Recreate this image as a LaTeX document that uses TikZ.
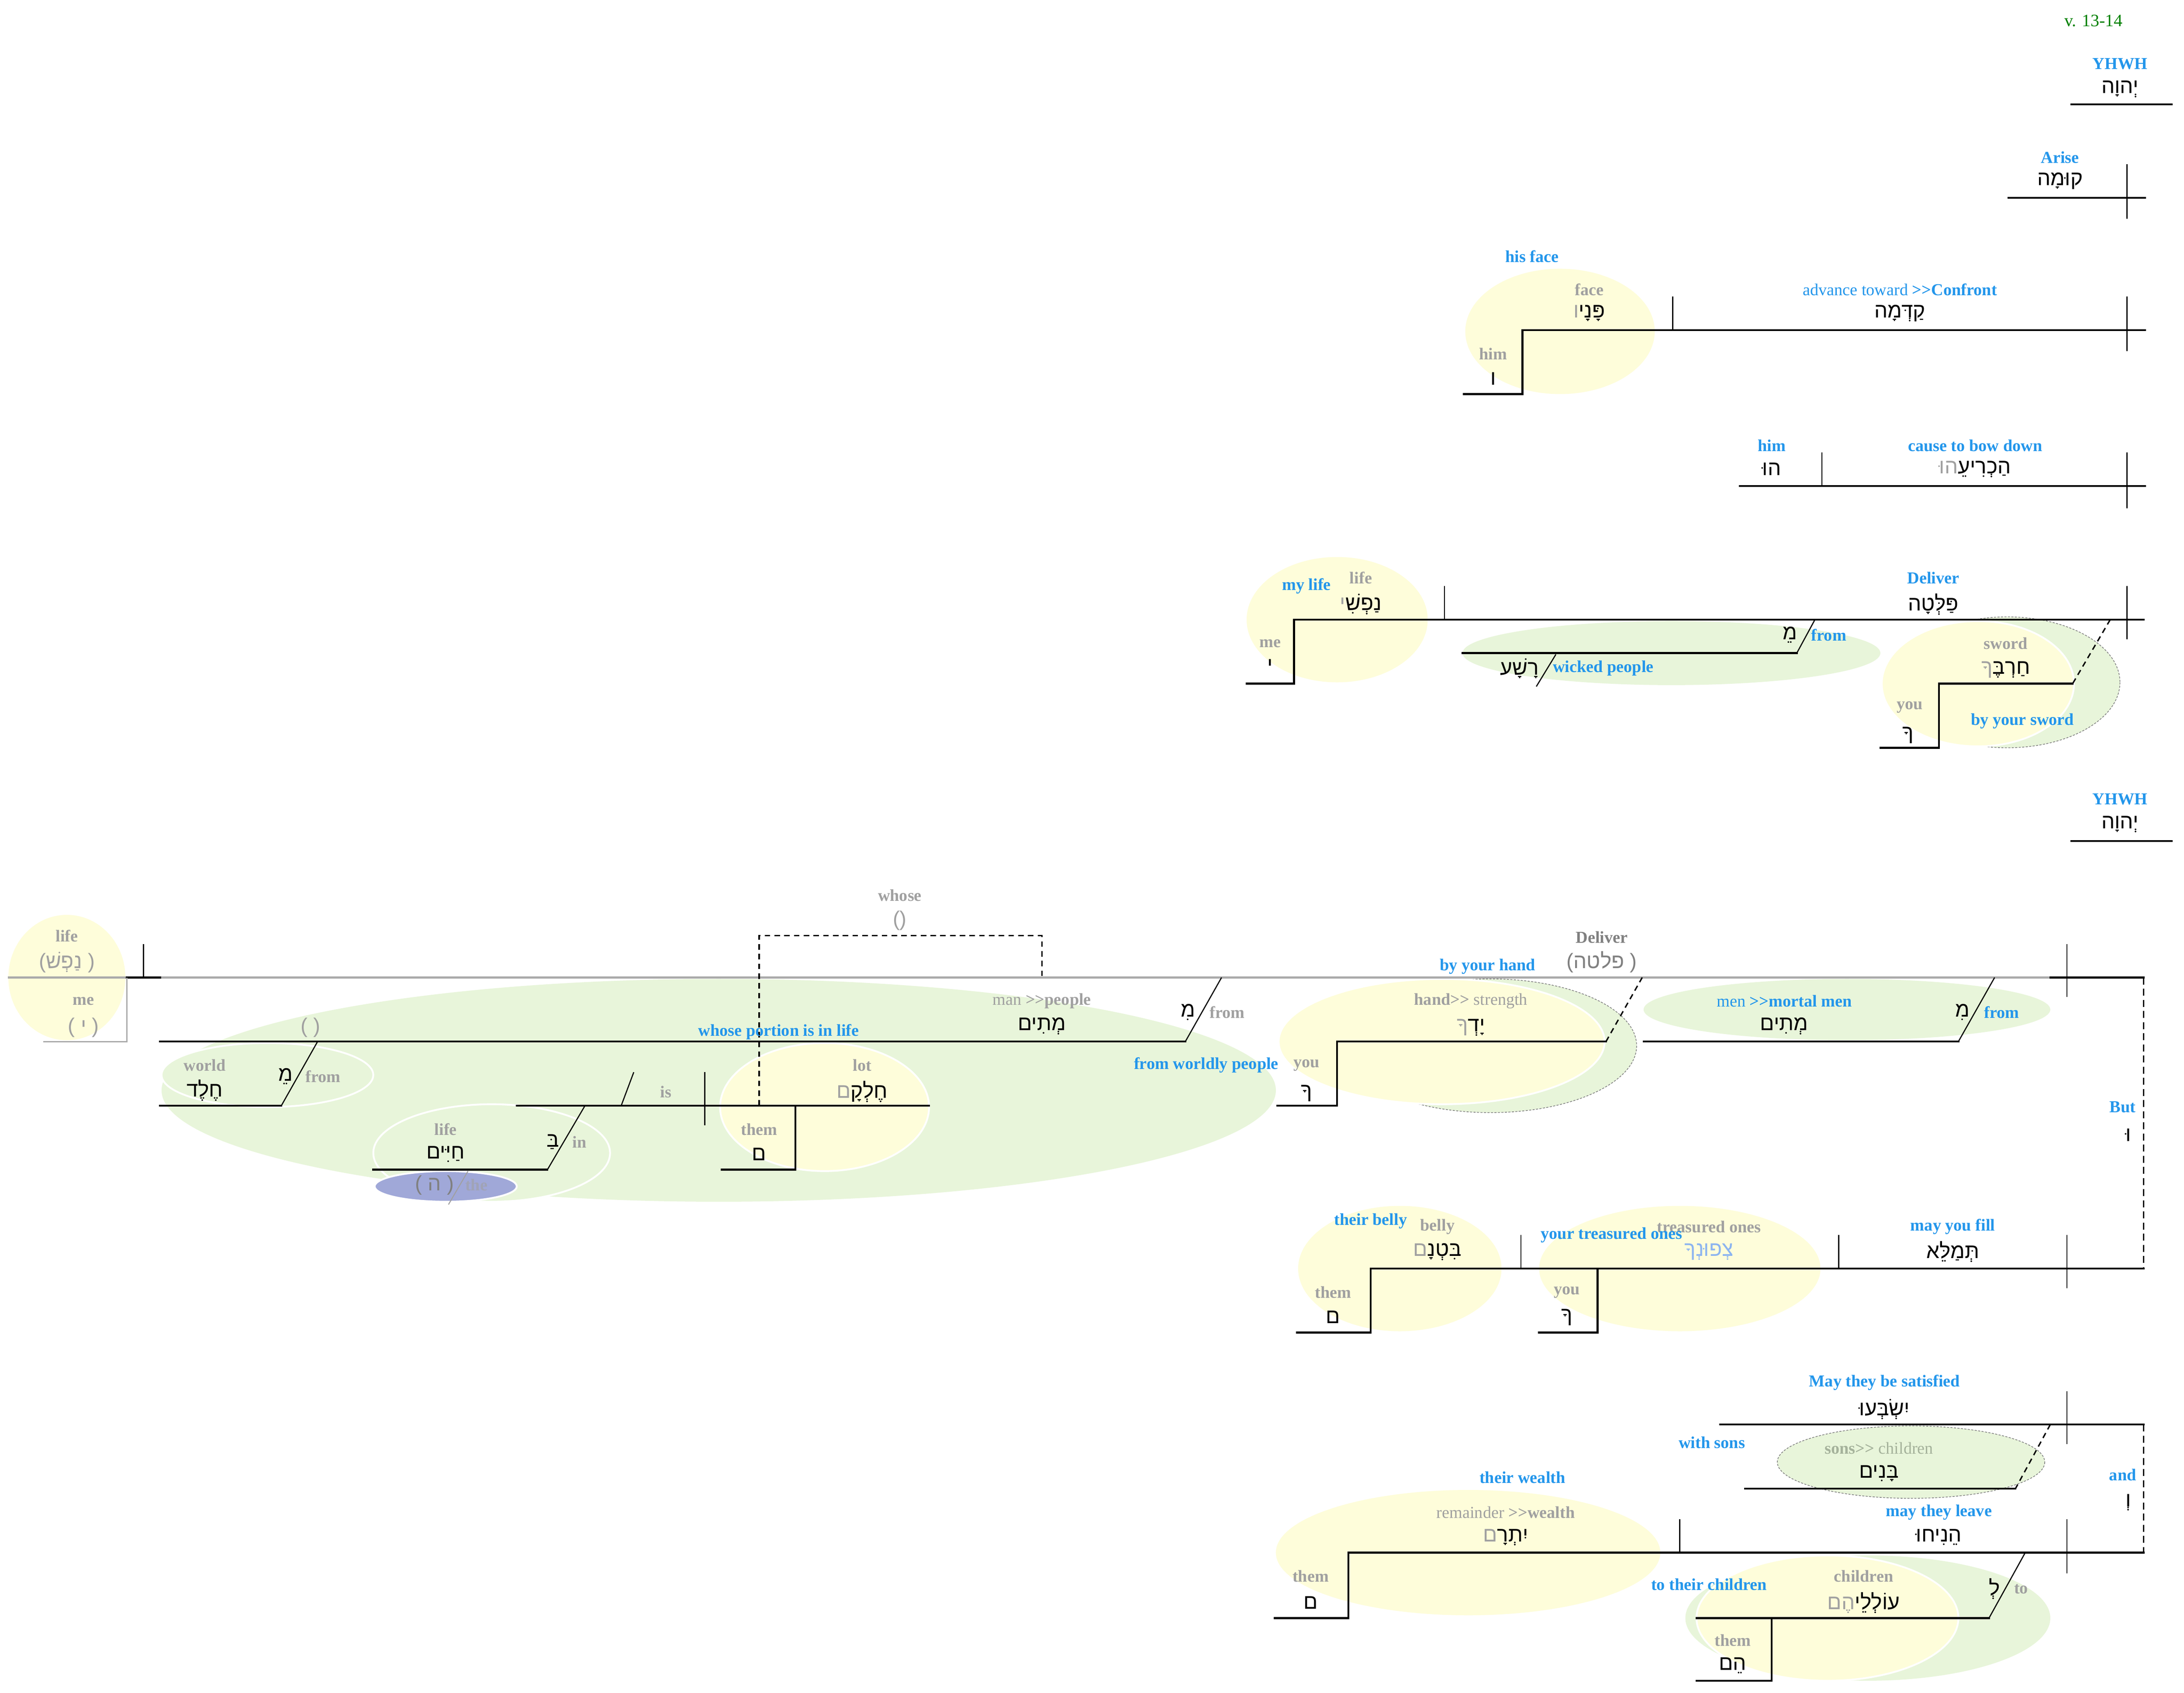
\documentclass[tikz,border=0pt]{standalone}
\usepackage{fontspec}
\setmainfont{Liberation Serif}
\newfontfamily\heb[Script=Hebrew]{Liberation Sans}
\newfontfamily\lsans{Liberation Sans}
\TeXXeTstate=1
\newcommand\gtgt{>\kern0pt>}
\definecolor{lb}{RGB}{35,150,235}
\definecolor{lg}{RGB}{160,160,160}
\definecolor{dg}{RGB}{128,128,128}
\definecolor{yel}{RGB}{254,253,218}
\definecolor{grn}{RGB}{232,245,218}
\definecolor{pur}{RGB}{160,168,216}
\definecolor{vgreen}{RGB}{0,128,0}
\definecolor{hbl}{RGB}{140,180,240}
\definecolor{sg}{RGB}{165,178,155}
\definecolor{mainline}{RGB}{170,170,170}
\tikzset{
  lbl/.style={inner sep=0pt, font=\fontsize{12}{12}\selectfont\bfseries, text=lb},
  glbl/.style={lbl, text=lg},
  hb/.style={inner sep=0pt, font=\heb\fontsize{15}{15}\selectfont},
  ghb/.style={hb, text=lg},
  ln/.style={line width=1.4pt, line cap=rect},
  tn/.style={line width=0.8pt},
  dsh/.style={line width=1pt, dash pattern=on 4pt off 3pt},
  vdsh/.style={line width=0.8pt, dash pattern=on 5pt off 3pt},
  yel/.style={fill=yel},
  gr/.style={fill=grn},
  wb/.style={draw=white, line width=1.3pt},
  dotb/.style={draw=dg, line width=0.5pt, dash pattern=on 1.5pt off 1pt},
}
% Hebrew word: #1 = main part (black), #2 = suffix (gray), laid out right to left
\newcommand\hw[2]{{\color{lg}\beginR #2\endR}\beginR #1\endR}
\newcommand\hr[1]{\beginR #1\endR}
\newcommand\lp{{\lsans(}}
\newcommand\rp{{\lsans)}}
\begin{document}
\begin{tikzpicture}[x=1pt,y=-1pt]
\fill[white] (0,0) rectangle (1568,1215.7);
\useasboundingbox (0,0) rectangle (1568,1215.7);

% ---------- ellipses ----------
\fill[yel] (1120,238) ellipse [x radius=68, y radius=45];
\fill[yel] (960,445) ellipse [x radius=65, y radius=45];
\fill[gr] (1200,469) ellipse [x radius=150, y radius=23];
\filldraw[gr,dotb] (1441,490) ellipse [x radius=81, y radius=47];
\filldraw[yel,wb] (1420,491) ellipse [x radius=69, y radius=45];

\fill[yel] (48,702) ellipse [x radius=42, y radius=45];
\fill[gr] (516,783) ellipse [x radius=400, y radius=80];
\filldraw[gr,wb] (192,772) ellipse [x radius=76, y radius=23];
\filldraw[gr,wb] (353,828) ellipse [x radius=85, y radius=35];
\filldraw[fill=pur,wb] (320,852) ellipse [x radius=51, y radius=11];
\filldraw[yel,wb] (592,795) ellipse [x radius=75, y radius=46];
\filldraw[gr,dotb] (1070,751) ellipse [x radius=105, y radius=48];
\filldraw[yel,wb] (1035,748) ellipse [x radius=117, y radius=45];
\fill[gr] (1326,725) ellipse [x radius=146, y radius=22];

\fill[yel] (1005,911) ellipse [x radius=73, y radius=45];
\fill[yel] (1206,911) ellipse [x radius=101, y radius=45];
\filldraw[gr,dotb] (1372,1050) ellipse [x radius=96, y radius=26];
\fill[yel] (1054,1115) ellipse [x radius=138, y radius=45];
\fill[gr] (1341,1162) ellipse [x radius=131, y radius=45];
\filldraw[yel,wb] (1312,1162) ellipse [x radius=94, y radius=45];

% ---------- lines: upper part ----------
\draw[ln] (1487,75) -- (1559,75);
\draw[ln] (1442,142) -- (1540,142);
\draw[tn] (1527,118) -- (1527,157);

\draw[ln] (1051,283) -- (1093,283) -- (1093,237) -- (1540,237);
\draw[tn] (1201,213) -- (1201,237);
\draw[tn] (1527,213) -- (1527,252);

\draw[ln] (1249,349) -- (1540,349);
\draw[tn] (1308,325) -- (1308,349);
\draw[tn] (1527,325) -- (1527,365);

\draw[ln] (895,491) -- (929,491) -- (929,445) -- (1539,445);
\draw[tn] (1037,421) -- (1037,445);
\draw[tn] (1527,421) -- (1527,459);
\draw[ln] (1050,469) -- (1290,469);
\draw[tn] (1290,469) -- (1303,445);
\draw[tn] (1117,470) -- (1103,493);
\draw[dsh] (1515,445) -- (1488,491);
\draw[ln] (1350,537) -- (1392,537) -- (1392,491) -- (1488,491);

\draw[ln] (1487,604) -- (1559,604);

% ---------- lines: lower main clause ----------
\draw[line width=1.4pt, mainline] (5.5,702) -- (1472,702);
\draw[ln] (91,702) -- (115,702);
\draw[tn] (103,678) -- (103,702);
\draw[line width=1pt, mainline] (91,702) -- (91,748) -- (31,748);
\draw[ln] (1472,702) -- (1539,702);
\draw[tn] (1484,678) -- (1484,716);
\draw[vdsh] (1539,702) -- (1539,911);

\draw[ln] (115,748) -- (851,748);
\draw[tn] (851,748) -- (877,702);
\draw[dsh] (545,794) -- (545,672) -- (748,672) -- (748,702);
\draw[ln] (115,794) -- (202,794);
\draw[tn] (202,794) -- (228,748);
\draw[ln] (268,840) -- (393,840);
\draw[tn] (393,840) -- (420,794);
\draw[line width=0.7pt, lg] (336,841) -- (322,865);
\draw[ln] (371,794) -- (667,794);
\draw[tn] (455,770) -- (446,794);
\draw[tn] (506,770) -- (506,808);
\draw[ln] (518,840) -- (571,840) -- (571,794);

\draw[ln] (917,794) -- (960,794) -- (960,748) -- (1153,748);
\draw[dsh] (1153,748) -- (1179,702);
\draw[ln] (1180,748) -- (1406,748);
\draw[tn] (1406,748) -- (1432,702);

% ---------- lines: fill clause ----------
\draw[ln] (931,957) -- (984,957) -- (984,911) -- (1539,911);
\draw[tn] (1484,887) -- (1484,925);
\draw[tn] (1320,887) -- (1320,911);
\draw[tn] (1092,887) -- (1092,911);
\draw[ln] (1105,957) -- (1147,957) -- (1147,911);

% ---------- lines: satisfied / leave ----------
\draw[ln] (1235,1023) -- (1539,1023);
\draw[tn] (1484,999) -- (1484,1037);
\draw[dsh] (1472,1023) -- (1447,1069);
\draw[ln] (1253,1069) -- (1447,1069);
\draw[vdsh] (1539,1023) -- (1539,1115);

\draw[ln] (915,1162) -- (968,1162) -- (968,1115) -- (1539,1115);
\draw[tn] (1484,1091) -- (1484,1130);
\draw[tn] (1206,1091) -- (1206,1115);
\draw[tn] (1454,1115) -- (1428,1162);
\draw[ln] (1218,1162) -- (1428,1162);
\draw[ln] (1218,1207) -- (1272,1207) -- (1272,1162);

% ---------- text: upper ----------
\node[lbl, text=vgreen, font=\fontsize{12.5}{12.5}\selectfont] (vv) at (1503,15) {v. 13-14};
\node[lbl] (yh1) at (1522,46) {YHWH};
\node[hb] (yh1h) at (1522,64) {\hr{יְהוָה}};
\node[lbl] (ar) at (1479,113) {Arise};
\node[hb] (arh) at (1479,130) {\hr{קוּמָה}};
\node[lbl] (hf) at (1100,184) {his face};
\node[glbl] (fc) at (1141,208) {face};
\node[hb] (fch) at (1141,225) {\hw{פָּנָי}{ו}};
\node[lbl] (adv) at (1364,208) {\mdseries advance toward \bfseries\gtgt Confront};
\node[hb] (advh) at (1364,225) {\hr{קַדְּמָה}};
\node[glbl] (hm1) at (1072,254) {him};
\node[hb] (hm1h) at (1072,272) {\hr{ו}};
\node[lbl] (hm2) at (1272,320) {him};
\node[hb] (hm2h) at (1272,337) {\hr{הוּ}};
\node[lbl] (cb) at (1418,320) {cause to bow down};
\node[hb] (cbh) at (1418,337) {\hw{הַכְרִיעֵ}{הוּ}};
\node[lbl] (ml) at (938,421) {my life};
\node[glbl] (lf1) at (977,415) {life};
\node[hb] (lf1h) at (977,434) {\hw{נַפְשִׁ}{י}};
\node[lbl] (dl1) at (1388,415) {Deliver};
\node[hb] (dl1h) at (1388,434) {\hr{פַּלְּטָה}};
\node[glbl] (me1) at (912,462) {me};
\node[hb] (me1h) at (912,478) {\hr{י}};
\node[hb] (fr1h) at (1285,456) {\hr{מֵ}};
\node[lbl] (fr1) at (1313,456) {from};
\node[hb] (wkh) at (1091,480) {\hr{רָשָׁע}};
\node[lbl] (wk) at (1151,480) {wicked people};
\node[glbl] (sw) at (1440,462) {sword};
\node[hb] (swh) at (1440,481) {\hw{חַרְבֶּ}{ךָ}};
\node[glbl] (yu1) at (1371,508) {you};
\node[hb] (yu1h) at (1370,528) {\hr{ךָ}};
\node[lbl] (bys) at (1452,518) {by your sword};
\node[lbl] (yh2) at (1522,574) {YHWH};
\node[hb] (yh2h) at (1522,592) {\hr{יְהוָה}};

% ---------- text: lower main clause ----------
\node[glbl] (lf2) at (48,672) {life};
\node[ghb] (lf2h) at (48,691) {\lp\hr{נַפְשׁ}\ \rp};
\node[glbl] (me2) at (60,719) {me};
\node[ghb] (me2h) at (60,738) {\lp\ \hr{י}\ \rp};
\node[ghb] (emp1) at (223,738) {\lp\ \rp};
\node[glbl] (whs) at (646,643) {whose};
\node[ghb] (whsh) at (646,661) {\lp\rp};
\node[glbl] (mnp) at (748,719) {\mdseries man \bfseries\gtgt people};
\node[hb] (mnph) at (748,737) {\hr{מְתִים}};
\node[hb] (fr2h) at (853,727) {\hr{מִ}};
\node[glbl] (fr2) at (881,727) {from};
\node[lbl] (wpl) at (559,741) {whose portion is in life};
\node[glbl] (wld) at (147,765) {world};
\node[hb] (wldh) at (147,783) {\hr{חֶלֶד}};
\node[hb] (fr3h) at (205,773) {\hr{מֵ}};
\node[glbl] (fr3) at (232,773) {from};
\node[glbl] (lf3) at (320,811) {life};
\node[hb] (lf3h) at (320,829) {\hr{חַיִּים}};
\node[hb] (inh) at (397,820) {\hr{בַּ}};
\node[glbl] (in) at (416,820) {in};
\node[ghb, text=dg] (theh) at (312,851) {\lp\ \hr{ה}\ \rp};
\node[lbl, text=lg!60!pur] (the) at (342,851) {the};
\node[glbl] (is) at (478,784) {is};
\node[glbl] (lot) at (619,765) {lot};
\node[hb] (loth) at (619,784) {\hw{חֶלְקָ}{ם}};
\node[glbl] (th1) at (545,811) {them};
\node[hb] (th1h) at (545,829) {\hr{ם}};
\node[lbl] (fwp) at (866,765) {from worldly people};
\node[glbl] (yu2) at (938,765) {you};
\node[hb] (yu2h) at (938,785) {\hr{ךָ}};
\node[lbl] (byh) at (1068,694) {by your hand};
\node[lbl, text=dg] (dl2) at (1150,673) {Deliver};
\node[ghb, text=dg] (dl2h) at (1150,691) {\lp\hr{פלטה}\ \rp};
\node[glbl] (hs) at (1056,719) {hand\gtgt{} \mdseries strength};
\node[hb] (hsh) at (1056,738) {\hw{יָדְ}{ךָ}};
\node[lbl] (mmm) at (1281,719) {\mdseries men \bfseries\gtgt mortal men};
\node[hb] (mmmh) at (1281,737) {\hr{מְתִים}};
\node[hb] (fr4h) at (1409,727) {\hr{מִ}};
\node[lbl] (fr4) at (1437,727) {from};
\node[lbl] (but) at (1524,795) {But};
\node[hb] (buth) at (1528,815) {\hr{וּ}};

% ---------- text: fill clause ----------
\node[lbl] (tb) at (984,877) {their belly};
\node[glbl] (bl) at (1032,881) {belly};
\node[hb] (blh) at (1032,899) {\hw{בִּטְנָ}{ם}};
\node[glbl] (th2) at (957,928) {them};
\node[hb] (th2h) at (957,946) {\hr{ם}};
\node[glbl] (tro) at (1227,881) {treasured ones};
\node[hb, text=hbl] (troh) at (1227,899) {\hr{צְפוּנְךָ}};
\node[lbl] (ytr) at (1157,887) {your treasured ones};
\node[glbl] (yu3) at (1125,928) {you};
\node[hb] (yu3h) at (1125,946) {\hr{ךָ}};
\node[lbl] (myf) at (1402,881) {may you fill};
\node[hb] (myfh) at (1402,899) {\hr{תְּמַלֵּא}};

% ---------- text: satisfied / leave ----------
\node[lbl] (mts) at (1353,993) {May they be satisfied};
\node[hb] (mtsh) at (1353,1012) {\hr{יִשְׂבְּעוּ}};
\node[lbl] (ws) at (1229,1036) {with sons};
\node[glbl, text=sg] (sc) at (1349,1040) {sons\gtgt{} \mdseries children};
\node[hb] (sch) at (1349,1058) {\hr{בָּנִים}};
\node[lbl] (and) at (1524,1059) {and};
\node[hb] (andh) at (1528,1079) {\hr{וְ}};
\node[lbl] (tw) at (1093,1061) {their wealth};
\node[glbl] (rw) at (1081,1086) {\mdseries remainder \bfseries\gtgt wealth};
\node[hb] (rwh) at (1081,1104) {\hw{יִתְרָ}{ם}};
\node[lbl] (mtl) at (1392,1086) {may they leave};
\node[hb] (mtlh) at (1392,1104) {\hr{הֵנִיחוּ}};
\node[glbl] (th3) at (941,1132) {them};
\node[hb] (th3h) at (941,1151) {\hr{ם}};
\node[lbl] (ttc) at (1227,1138) {to their children};
\node[glbl] (ch) at (1338,1132) {children};
\node[hb] (chh) at (1338,1151) {\hw{עוֹלְלֵי}{הֶם}};
\node[hb] (toh) at (1432,1141) {\hr{לְ}};
\node[glbl] (to) at (1451,1141) {to};
\node[glbl] (th4) at (1244,1178) {them};
\node[hb] (th4h) at (1244,1196) {\hr{הֵם}};
\end{tikzpicture}
\end{document}
